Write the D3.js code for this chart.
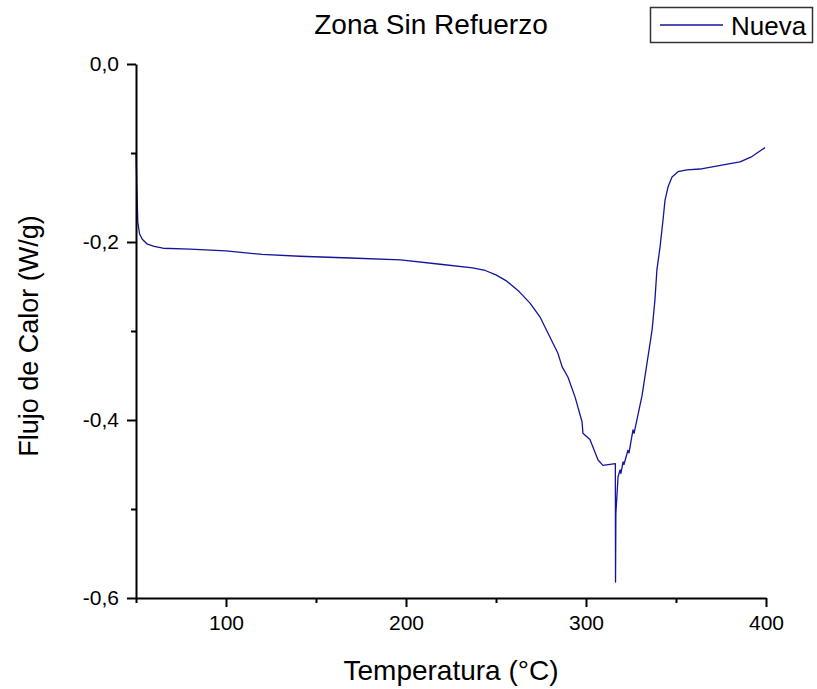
<!DOCTYPE html>
<html>
<head>
<meta charset="utf-8">
<script src="https://cdn.jsdelivr.net/npm/d3@7"></script>
<style>
    body { margin: 0; background: #fff; }
    text { font-family: "Liberation Sans", Arial, sans-serif; fill: #000; }
</style>
</head>
<body>
<script>
// DSC curve
const temperature = [
    50.0, 50.5, 51.0, 52.0, 53.5, 56.0, 60.0, 65.0, 80.0, 100.0,
    120.0, 141.0, 169.0, 197.0, 219.0, 237.0, 244.0, 250.0, 256.0, 263.0,
    269.0, 274.4, 280.0, 284.4, 286.7, 290.0, 293.9, 297.8, 298.3, 302.2,
    306.7, 309.4, 316.3, 316.4, 316.6, 317.8, 318.9, 319.4, 320.6, 321.1,
    323.3, 323.9, 326.1, 326.7, 328.9, 331.1, 333.9, 336.7, 338.3, 339.4,
    341.1, 342.8, 343.9, 345.6, 347.8, 351.1, 356.1, 363.3, 380.0, 385.6,
    392.2, 399.4
];
const heatFlow = [
    -0.100, -0.140, -0.178, -0.191, -0.197, -0.202, -0.205, -0.207, -0.208, -0.210,
    -0.214, -0.216, -0.218, -0.220, -0.225, -0.229, -0.232, -0.237, -0.244, -0.256,
    -0.269, -0.284, -0.307, -0.325, -0.340, -0.352, -0.374, -0.402, -0.415, -0.422,
    -0.445, -0.451, -0.449, -0.582, -0.505, -0.464, -0.456, -0.460, -0.447, -0.450,
    -0.434, -0.437, -0.411, -0.415, -0.394, -0.373, -0.336, -0.299, -0.265, -0.231,
    -0.206, -0.175, -0.153, -0.138, -0.127, -0.121, -0.119, -0.118, -0.112, -0.110,
    -0.104, -0.094
];
const xMajorTicks = [100, 200, 300, 400];
const xMinorTicks = [50, 150, 250, 350];
const yMajorTicks = [0, -0.2, -0.4, -0.6];
const yMinorTicks = [-0.1, -0.3, -0.5];
const seriesName = "Nueva";

const width = 817, height = 689,
    margin = {top: 64, right: 51, bottom: 91, left: 136},
    lineColour = "#14149a";

const locale = d3.formatLocale({decimal: ",", thousands: ".", grouping: [3], currency: ["", ""], minus: "-"});
const fmtY = locale.format(".1f");

const values = temperature.map((t, i) => [t, heatFlow[i]]);

const svg = d3.select("body").append("svg")
    .attr("width", width)
    .attr("height", height);

const xAxis = d3.scaleLinear().domain([50, 400]).range([margin.left, width - margin.right]),
    yAxis = d3.scaleLinear().domain([-0.6, 0]).range([height - margin.bottom, margin.top]);

// curve
svg.append("path")
    .datum(values)
    .attr("fill", "none")
    .attr("stroke", lineColour)
    .attr("stroke-width", 1.3)
    .attr("stroke-linejoin", "round")
    .attr("d", d3.line().x(d => xAxis(d[0])).y(d => yAxis(d[1])));

// axes: major ticks with labels, minor ticks without
const bottom = svg.append("g").attr("transform", `translate(0,${height - margin.bottom})`);
bottom.call(d3.axisBottom(xAxis).tickValues(xMajorTicks).tickSize(9).tickSizeOuter(0).tickPadding(8));
bottom.append("g").call(d3.axisBottom(xAxis).tickValues(xMinorTicks).tickSize(5).tickFormat(""))
    .select(".domain").remove();

const left = svg.append("g").attr("transform", `translate(${margin.left},0)`);
left.call(d3.axisLeft(yAxis).tickValues(yMajorTicks).tickSize(9).tickSizeOuter(0).tickPadding(8).tickFormat(fmtY));
left.append("g").call(d3.axisLeft(yAxis).tickValues(yMinorTicks).tickSize(5).tickFormat(""))
    .select(".domain").remove();

svg.selectAll(".domain, .tick line").attr("stroke", "#000").attr("stroke-width", 2);
svg.selectAll(".tick text").style("font-size", "21px").style("font-family", "'Liberation Sans', Arial, sans-serif");

// title and axis labels
svg.append("text")
    .attr("x", 431)
    .attr("y", 34)
    .style("text-anchor", "middle")
    .style("font-size", "28px")
    .text("Zona Sin Refuerzo");

svg.append("text")
    .attr("x", (margin.left + width - margin.right) / 2)
    .attr("y", 680)
    .style("text-anchor", "middle")
    .style("font-size", "28px")
    .text("Temperatura (°C)");

svg.append("text")
    .attr("transform", "rotate(-90)")
    .attr("x", -336)
    .attr("y", 38)
    .style("text-anchor", "middle")
    .style("font-size", "27px")
    .text("Flujo de Calor (W/g)");

// legend
const legend = svg.append("g");
legend.append("rect")
    .attr("x", 650.5).attr("y", 7.5)
    .attr("width", 162).attr("height", 35)
    .attr("fill", "#fff")
    .attr("stroke", "#333").attr("stroke-width", 1.5);
legend.append("line")
    .attr("x1", 660).attr("x2", 723)
    .attr("y1", 25).attr("y2", 25)
    .attr("stroke", lineColour).attr("stroke-width", 1.5);
legend.append("text")
    .attr("x", 731)
    .attr("y", 35)
    .style("font-size", "26px")
    .text(seriesName);
</script>
</body>
</html>
